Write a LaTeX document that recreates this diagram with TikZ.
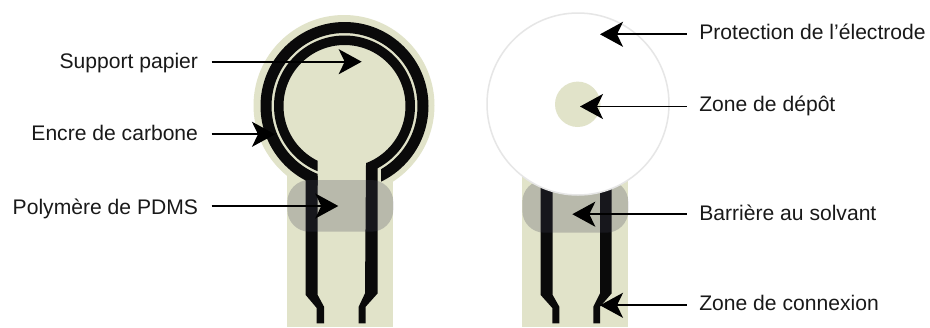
\documentclass[tikz,border=0pt]{standalone}
\usepackage{fontspec}
\setmainfont{Liberation Sans}
\usetikzlibrary{arrows.meta}
\definecolor{tan}{RGB}{225,227,201}
\definecolor{ink}{RGB}{10,10,10}
\definecolor{veil}{RGB}{62,62,85}
\definecolor{edgegrey}{RGB}{230,230,230}
\definecolor{txt}{RGB}{25,25,25}
\tikzset{
  x=1pt,y=-1pt,
  lab/.style={font=\fontsize{21.1pt}{24pt}\selectfont,text=txt,inner ysep=0pt,inner xsep=0pt},
  labl/.style={lab,anchor=base east,outer xsep=13.7pt},
  labr/.style={lab,anchor=base west,outer xsep=12.6pt},
  pointer/.style={draw=black,line width=1.9pt,-{Stealth[length=23pt,width=25pt,inset=6pt]}},
  trace/.style={fill=ink},
  pill/.style={fill=veil,fill opacity=.25,rounded corners=22pt},
  base/.style={fill=tan}
}
\begin{document}
\begin{tikzpicture}
\useasboundingbox (0,0) rectangle (930,327);
\fill[white] (0,0) rectangle (930,327);
% left electrode
\fill[base] (287.3,150) rectangle (393.3,327);
\fill[base] (344,105.5) circle [radius=90.5pt];
\begin{scope}
  \clip (200,0) -- (500,0) -- (500,327) -- (381,327) -- (381,106) -- (317.7,106) -- (317.7,327) -- (200,327) -- cycle;
  \draw[ink,line width=11pt] (344.5,106) circle [radius=78.5pt];
\end{scope}
\begin{scope}
  \clip (200,0) -- (500,0) -- (500,327) -- (366,327) -- (366,106) -- (317.7,106) -- (317.7,327) -- (200,327) -- cycle;
  \draw[ink,line width=9.5pt] (344.5,106) circle [radius=65.75pt];
\end{scope}
\fill[trace] (305.7,176) -- (317.7,176) -- (317.7,295) -- (324,306.7) -- (324,323.3) -- (316.7,323.3) -- (316.7,308) -- (305.7,295) -- cycle;
\fill[trace] (366,165) -- (377.7,165) -- (377.7,293.3) -- (365.7,306.7) -- (365.7,323.3) -- (358.7,323.3) -- (358.7,306.7) -- (365,293.3) -- cycle;
\fill[pill] (287.3,180) rectangle (393.3,231.7);
% right electrode
\fill[base] (522.3,170) rectangle (628.3,327);
\fill[trace] (540.7,170) -- (552.7,170) -- (552.7,295) -- (559.3,306.7) -- (559.3,323.3) -- (552.3,323.3) -- (552.3,308) -- (540.7,295) -- cycle;
\fill[trace] (600,170) -- (611.7,170) -- (611.7,293.3) -- (600,306.7) -- (600,323.3) -- (593.3,323.3) -- (593.3,306.7) -- (600,293.3) -- cycle;
\fill[pill] (522.3,180) rectangle (628.3,232.7);
\filldraw[fill=white,draw=edgegrey,line width=1.5pt] (578,104) circle [radius=91pt];
\fill[base] (577.7,104.3) circle [radius=22.7pt];
% labels
\node[labl] (support) at (211.7,68.3) {Support papier};
\node[labl] (encre) at (211.7,140.5) {Encre de carbone};
\node[labl] (pdms) at (211.7,214.5) {Polymère de PDMS};
\node[labr] (protection) at (686.7,39.5) {Protection de l’électrode};
\node[labr] (depot) at (686.7,111.7) {Zone de dépôt};
\node[labr] (barriere) at (686.7,220.7) {Barrière au solvant};
\node[labr] (connexion) at (686.7,310.7) {Zone de connexion};
% pointer ends
\coordinate (tsupport) at (361.7,61.7);
\coordinate (tencre) at (275,134.3);
\coordinate (tpdms) at (338.3,206);
\coordinate (tprotection) at (600,34.3);
\coordinate (tdepot) at (580,106.5);
\coordinate (tbarriere) at (572.3,214.2);
\coordinate (tconnexion) at (600,305.3);
\draw[pointer] (support.east |- tsupport) -- (tsupport);
\draw[pointer] (encre.east |- tencre) -- (tencre);
\draw[pointer] (pdms.east |- tpdms) -- (tpdms);
\draw[pointer] (protection.west |- tprotection) -- (tprotection);
\draw[pointer] (depot.west |- tdepot) -- (tdepot);
\draw[pointer] (barriere.west |- tbarriere) -- (tbarriere);
\draw[pointer] (connexion.west |- tconnexion) -- (tconnexion);
\end{tikzpicture}
\end{document}
